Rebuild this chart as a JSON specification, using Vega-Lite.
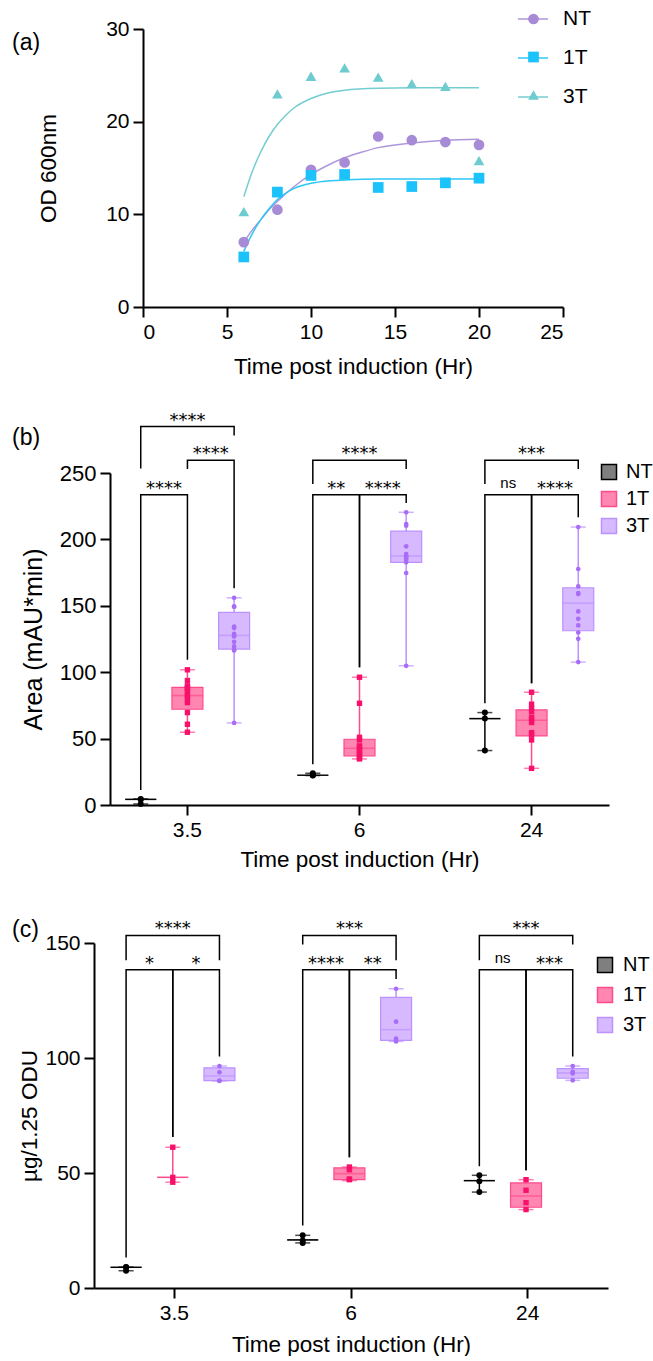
{
"$schema": "https://vega.github.io/schema/vega-lite/v6.json",
"padding": {"left": 12, "top": 9, "right": 0, "bottom": 0},
"datasets": {
"growth": [
{"t":6,"od":7.0,"group":"NT"},{"t":8,"od":10.5,"group":"NT"},{"t":10,"od":14.8,"group":"NT"},{"t":12,"od":15.6,"group":"NT"},{"t":14,"od":18.4,"group":"NT"},{"t":16,"od":18.0,"group":"NT"},{"t":18,"od":17.8,"group":"NT"},{"t":20,"od":17.5,"group":"NT"},
{"t":6,"od":5.4,"group":"1T"},{"t":8,"od":12.4,"group":"1T"},{"t":10,"od":14.2,"group":"1T"},{"t":12,"od":14.3,"group":"1T"},{"t":14,"od":12.9,"group":"1T"},{"t":16,"od":13.0,"group":"1T"},{"t":18,"od":13.4,"group":"1T"},{"t":20,"od":13.9,"group":"1T"},
{"t":6,"od":10.3,"group":"3T"},{"t":8,"od":23.0,"group":"3T"},{"t":10,"od":24.9,"group":"3T"},{"t":12,"od":25.8,"group":"3T"},{"t":14,"od":24.8,"group":"3T"},{"t":16,"od":24.1,"group":"3T"},{"t":18,"od":23.8,"group":"3T"},{"t":20,"od":15.8,"group":"3T"}
],
"fit": [
{"t":6,"od":7.0,"curve":"NT"},{"t":6.5,"od":8.3,"curve":"NT"},{"t":7,"od":9.4,"curve":"NT"},{"t":7.5,"od":10.5,"curve":"NT"},{"t":8,"od":11.4,"curve":"NT"},{"t":9,"od":13.0,"curve":"NT"},{"t":10,"od":14.3,"curve":"NT"},{"t":11,"od":15.3,"curve":"NT"},{"t":12,"od":16.1,"curve":"NT"},{"t":13,"od":16.7,"curve":"NT"},{"t":14,"od":17.2,"curve":"NT"},{"t":16,"od":17.7,"curve":"NT"},{"t":18,"od":18.0,"curve":"NT"},{"t":20,"od":18.1,"curve":"NT"},
{"t":6,"od":6.0,"curve":"1T"},{"t":6.5,"od":7.9,"curve":"1T"},{"t":7,"od":9.4,"curve":"1T"},{"t":7.5,"od":10.6,"curve":"1T"},{"t":8,"od":11.6,"curve":"1T"},{"t":8.5,"od":12.3,"curve":"1T"},{"t":9,"od":12.8,"curve":"1T"},{"t":10,"od":13.35,"curve":"1T"},{"t":11,"od":13.6,"curve":"1T"},{"t":12,"od":13.7,"curve":"1T"},{"t":14,"od":13.8,"curve":"1T"},{"t":16,"od":13.8,"curve":"1T"},{"t":20,"od":13.8,"curve":"1T"},
{"t":6,"od":11.9,"curve":"3T"},{"t":6.5,"od":14.6,"curve":"3T"},{"t":7,"od":16.7,"curve":"3T"},{"t":7.5,"od":18.4,"curve":"3T"},{"t":8,"od":19.7,"curve":"3T"},{"t":8.5,"od":20.7,"curve":"3T"},{"t":9,"od":21.5,"curve":"3T"},{"t":10,"od":22.5,"curve":"3T"},{"t":11,"od":23.1,"curve":"3T"},{"t":12,"od":23.4,"curve":"3T"},{"t":14,"od":23.6,"curve":"3T"},{"t":16,"od":23.65,"curve":"3T"},{"t":20,"od":23.65,"curve":"3T"}
],
"bpts": [
{"time":"3.5","group":"NT","value":4.6},{"time":"3.5","group":"NT","value":4.2},{"time":"3.5","group":"NT","value":0.8},
{"time":"3.5","group":"1T","value":101.8},{"time":"3.5","group":"1T","value":93.7},{"time":"3.5","group":"1T","value":89.7},{"time":"3.5","group":"1T","value":88.7},{"time":"3.5","group":"1T","value":87.5},{"time":"3.5","group":"1T","value":85.2},{"time":"3.5","group":"1T","value":82.4},{"time":"3.5","group":"1T","value":80.9},{"time":"3.5","group":"1T","value":77.1},{"time":"3.5","group":"1T","value":69.6},{"time":"3.5","group":"1T","value":60.8},{"time":"3.5","group":"1T","value":54.8},
{"time":"3.5","group":"3T","value":156},{"time":"3.5","group":"3T","value":149.5},{"time":"3.5","group":"3T","value":149.3},{"time":"3.5","group":"3T","value":134.4},{"time":"3.5","group":"3T","value":133.2},{"time":"3.5","group":"3T","value":128.9},{"time":"3.5","group":"3T","value":127.7},{"time":"3.5","group":"3T","value":126.9},{"time":"3.5","group":"3T","value":122.9},{"time":"3.5","group":"3T","value":119.4},{"time":"3.5","group":"3T","value":116.9},{"time":"3.5","group":"3T","value":116.4},{"time":"3.5","group":"3T","value":61.8},
{"time":"6","group":"NT","value":22.2},{"time":"6","group":"NT","value":23.9},{"time":"6","group":"NT","value":22.4},
{"time":"6","group":"1T","value":96.2},{"time":"6","group":"1T","value":76.6},{"time":"6","group":"1T","value":51.0},{"time":"6","group":"1T","value":49.0},{"time":"6","group":"1T","value":44.5},{"time":"6","group":"1T","value":43.5},{"time":"6","group":"1T","value":41.5},{"time":"6","group":"1T","value":40.2},{"time":"6","group":"1T","value":38.4},{"time":"6","group":"1T","value":36.9},{"time":"6","group":"1T","value":35.2},{"time":"6","group":"1T","value":34.7},
{"time":"6","group":"3T","value":220.4},{"time":"6","group":"3T","value":211.6},{"time":"6","group":"3T","value":210.3},{"time":"6","group":"3T","value":194.8},{"time":"6","group":"3T","value":189.0},{"time":"6","group":"3T","value":187.7},{"time":"6","group":"3T","value":187.2},{"time":"6","group":"3T","value":186.0},{"time":"6","group":"3T","value":184.7},{"time":"6","group":"3T","value":182.7},{"time":"6","group":"3T","value":174.7},{"time":"6","group":"3T","value":104.8},
{"time":"24","group":"NT","value":69.6},{"time":"24","group":"NT","value":65.1},{"time":"24","group":"NT","value":41.0},
{"time":"24","group":"1T","value":84.9},{"time":"24","group":"1T","value":75.9},{"time":"24","group":"1T","value":72.9},{"time":"24","group":"1T","value":70.4},{"time":"24","group":"1T","value":66.1},{"time":"24","group":"1T","value":64.1},{"time":"24","group":"1T","value":62.1},{"time":"24","group":"1T","value":54.5},{"time":"24","group":"1T","value":52.8},{"time":"24","group":"1T","value":49.0},{"time":"24","group":"1T","value":27.6},
{"time":"24","group":"3T","value":209.3},{"time":"24","group":"3T","value":177.7},{"time":"24","group":"3T","value":164.6},{"time":"24","group":"3T","value":159.6},{"time":"24","group":"3T","value":158.8},{"time":"24","group":"3T","value":145.8},{"time":"24","group":"3T","value":140.2},{"time":"24","group":"3T","value":135.2},{"time":"24","group":"3T","value":129.9},{"time":"24","group":"3T","value":125.1},{"time":"24","group":"3T","value":107.6}
],
"bbox": [
{"time":"3.5","group":"NT","min":0.8,"q1":4.2,"median":4.2,"q3":4.2,"max":4.6},
{"time":"3.5","group":"1T","min":54.8,"q1":72.1,"median":82.4,"q3":88.5,"max":101.8},
{"time":"3.5","group":"3T","min":61.8,"q1":117.4,"median":127.7,"q3":145,"max":156},
{"time":"6","group":"NT","min":22.2,"q1":22.4,"median":22.4,"q3":22.4,"max":23.9},
{"time":"6","group":"1T","min":34.7,"q1":36.9,"median":42.7,"q3":49.5,"max":96.2},
{"time":"6","group":"3T","min":104.8,"q1":182.7,"median":187.5,"q3":206.3,"max":220.4},
{"time":"24","group":"NT","min":41.0,"q1":65.1,"median":65.1,"q3":65.1,"max":69.6},
{"time":"24","group":"1T","min":27.6,"q1":52.0,"median":63.8,"q3":71.6,"max":84.9},
{"time":"24","group":"3T","min":107.6,"q1":131.2,"median":152,"q3":163.6,"max":209.3}
],
"bbr": [
{"time":"3.5","bracket":"b1","order":1,"slot":"NT","value":11.3},{"time":"3.5","bracket":"b1","order":2,"slot":"NT","value":233.7},{"time":"3.5","bracket":"b1","order":3,"slot":"1T","value":233.7},{"time":"3.5","bracket":"b1","order":4,"slot":"1T","value":109.3},
{"time":"3.5","bracket":"b2","order":1,"slot":"1T","value":253},{"time":"3.5","bracket":"b2","order":2,"slot":"1T","value":259.6},{"time":"3.5","bracket":"b2","order":3,"slot":"3T","value":259.6},{"time":"3.5","bracket":"b2","order":4,"slot":"3T","value":163.3},
{"time":"3.5","bracket":"b3","order":1,"slot":"NT","value":253.3},{"time":"3.5","bracket":"b3","order":2,"slot":"NT","value":285},{"time":"3.5","bracket":"b3","order":3,"slot":"3T","value":285},{"time":"3.5","bracket":"b3","order":4,"slot":"3T","value":278.2},
{"time":"6","bracket":"b4","order":1,"slot":"NT","value":30.7},{"time":"6","bracket":"b4","order":2,"slot":"NT","value":233.7},{"time":"6","bracket":"b4","order":3,"slot":"1T","value":233.7},{"time":"6","bracket":"b4","order":4,"slot":"1T","value":103.8},
{"time":"6","bracket":"b5","order":1,"slot":"1T","value":103.8},{"time":"6","bracket":"b5","order":2,"slot":"1T","value":233.7},{"time":"6","bracket":"b5","order":3,"slot":"3T","value":233.7},{"time":"6","bracket":"b5","order":4,"slot":"3T","value":227.4},
{"time":"6","bracket":"b6","order":1,"slot":"NT","value":241.7},{"time":"6","bracket":"b6","order":2,"slot":"NT","value":259.6},{"time":"6","bracket":"b6","order":3,"slot":"3T","value":259.6},{"time":"6","bracket":"b6","order":4,"slot":"3T","value":253},
{"time":"24","bracket":"b7","order":1,"slot":"NT","value":76.6},{"time":"24","bracket":"b7","order":2,"slot":"NT","value":233.7},{"time":"24","bracket":"b7","order":3,"slot":"1T","value":233.7},{"time":"24","bracket":"b7","order":4,"slot":"1T","value":91.7},
{"time":"24","bracket":"b8","order":1,"slot":"1T","value":91.7},{"time":"24","bracket":"b8","order":2,"slot":"1T","value":233.7},{"time":"24","bracket":"b8","order":3,"slot":"3T","value":233.7},{"time":"24","bracket":"b8","order":4,"slot":"3T","value":216.6},
{"time":"24","bracket":"b9","order":1,"slot":"NT","value":241.7},{"time":"24","bracket":"b9","order":2,"slot":"NT","value":259.6},{"time":"24","bracket":"b9","order":3,"slot":"3T","value":259.6},{"time":"24","bracket":"b9","order":4,"slot":"3T","value":253}
],
"blab": [
{"time":"3.5","slot":"NT|1T","value":233.7,"label":"****"},{"time":"3.5","slot":"1T|3T","value":259.6,"label":"****"},{"time":"3.5","slot":"1T","value":285,"label":"****"},
{"time":"6","slot":"NT|1T","value":233.7,"label":"**"},{"time":"6","slot":"1T|3T","value":233.7,"label":"****"},{"time":"6","slot":"1T","value":259.6,"label":"****"},
{"time":"24","slot":"NT|1T","value":233.7,"label":"ns"},{"time":"24","slot":"1T|3T","value":233.7,"label":"****"},{"time":"24","slot":"1T","value":259.6,"label":"***"}
],
"cpts": [
{"time":"3.5","group":"NT","value":9.0},{"time":"3.5","group":"NT","value":9.1},{"time":"3.5","group":"NT","value":7.5},
{"time":"3.5","group":"1T","value":61.2},{"time":"3.5","group":"1T","value":48.1},{"time":"3.5","group":"1T","value":46.0},
{"time":"3.5","group":"3T","value":96.5},{"time":"3.5","group":"3T","value":93.8},{"time":"3.5","group":"3T","value":90.2},{"time":"3.5","group":"3T","value":90.0},
{"time":"6","group":"NT","value":22.9},{"time":"6","group":"NT","value":20.6},{"time":"6","group":"NT","value":19.6},
{"time":"6","group":"1T","value":52.6},{"time":"6","group":"1T","value":51.4},{"time":"6","group":"1T","value":47.4},{"time":"6","group":"1T","value":47.1},
{"time":"6","group":"3T","value":130.1},{"time":"6","group":"3T","value":115.8},{"time":"6","group":"3T","value":108.4},{"time":"6","group":"3T","value":107.2},
{"time":"24","group":"NT","value":49.0},{"time":"24","group":"NT","value":46.4},{"time":"24","group":"NT","value":41.7},
{"time":"24","group":"1T","value":47.1},{"time":"24","group":"1T","value":42.5},{"time":"24","group":"1T","value":37.1},{"time":"24","group":"1T","value":34.1},
{"time":"24","group":"3T","value":96.5},{"time":"24","group":"3T","value":94.0},{"time":"24","group":"3T","value":93.3},{"time":"24","group":"3T","value":90.3}
],
"cbox": [
{"time":"3.5","group":"NT","min":7.5,"q1":9.0,"median":9.0,"q3":9.0,"max":9.1},
{"time":"3.5","group":"1T","min":46.0,"q1":48.1,"median":48.1,"q3":48.1,"max":61.2},
{"time":"3.5","group":"3T","min":90.0,"q1":90.2,"median":92.2,"q3":95.7,"max":96.5},
{"time":"6","group":"NT","min":19.6,"q1":20.9,"median":20.9,"q3":20.9,"max":22.9},
{"time":"6","group":"1T","min":46.7,"q1":47.1,"median":49.7,"q3":52.2,"max":52.6},
{"time":"6","group":"3T","min":107.2,"q1":107.7,"median":112.3,"q3":126.4,"max":130.1},
{"time":"24","group":"NT","min":41.7,"q1":46.7,"median":46.7,"q3":46.7,"max":49.0},
{"time":"24","group":"1T","min":34.1,"q1":35.1,"median":40.0,"q3":45.7,"max":47.1},
{"time":"24","group":"3T","min":90.3,"q1":91.2,"median":93.5,"q3":95.4,"max":96.5}
],
"cbr": [
{"time":"3.5","bracket":"c1","order":1,"slot":"NT","value":13.3},{"time":"3.5","bracket":"c1","order":2,"slot":"NT","value":138.4},{"time":"3.5","bracket":"c1","order":3,"slot":"1T","value":138.4},{"time":"3.5","bracket":"c1","order":4,"slot":"1T","value":65.7},
{"time":"3.5","bracket":"c2","order":1,"slot":"1T","value":65.7},{"time":"3.5","bracket":"c2","order":2,"slot":"1T","value":138.4},{"time":"3.5","bracket":"c2","order":3,"slot":"3T","value":138.4},{"time":"3.5","bracket":"c2","order":4,"slot":"3T","value":100.7},
{"time":"3.5","bracket":"c3","order":1,"slot":"NT","value":142.5},{"time":"3.5","bracket":"c3","order":2,"slot":"NT","value":153.3},{"time":"3.5","bracket":"c3","order":3,"slot":"3T","value":153.3},{"time":"3.5","bracket":"c3","order":4,"slot":"3T","value":142.5},
{"time":"6","bracket":"c4","order":1,"slot":"NT","value":27.2},{"time":"6","bracket":"c4","order":2,"slot":"NT","value":138.4},{"time":"6","bracket":"c4","order":3,"slot":"1T","value":138.4},{"time":"6","bracket":"c4","order":4,"slot":"1T","value":56.8},
{"time":"6","bracket":"c5","order":1,"slot":"1T","value":56.8},{"time":"6","bracket":"c5","order":2,"slot":"1T","value":138.4},{"time":"6","bracket":"c5","order":3,"slot":"3T","value":138.4},{"time":"6","bracket":"c5","order":4,"slot":"3T","value":134.3},
{"time":"6","bracket":"c6","order":1,"slot":"NT","value":149.3},{"time":"6","bracket":"c6","order":2,"slot":"NT","value":153.3},{"time":"6","bracket":"c6","order":3,"slot":"3T","value":153.3},{"time":"6","bracket":"c6","order":4,"slot":"3T","value":142.5},
{"time":"24","bracket":"c7","order":1,"slot":"NT","value":52.9},{"time":"24","bracket":"c7","order":2,"slot":"NT","value":138.4},{"time":"24","bracket":"c7","order":3,"slot":"1T","value":138.4},{"time":"24","bracket":"c7","order":4,"slot":"1T","value":51.2},
{"time":"24","bracket":"c8","order":1,"slot":"1T","value":51.2},{"time":"24","bracket":"c8","order":2,"slot":"1T","value":138.4},{"time":"24","bracket":"c8","order":3,"slot":"3T","value":138.4},{"time":"24","bracket":"c8","order":4,"slot":"3T","value":100.7},
{"time":"24","bracket":"c9","order":1,"slot":"NT","value":142.5},{"time":"24","bracket":"c9","order":2,"slot":"NT","value":153.3},{"time":"24","bracket":"c9","order":3,"slot":"3T","value":153.3},{"time":"24","bracket":"c9","order":4,"slot":"3T","value":149.3}
],
"clab": [
{"time":"3.5","slot":"NT|1T","value":138.4,"label":"*"},{"time":"3.5","slot":"1T|3T","value":138.4,"label":"*"},{"time":"3.5","slot":"1T","value":153.3,"label":"****"},
{"time":"6","slot":"NT|1T","value":138.4,"label":"****"},{"time":"6","slot":"1T|3T","value":138.4,"label":"**"},{"time":"6","slot":"1T","value":153.3,"label":"***"},
{"time":"24","slot":"NT|1T","value":138.4,"label":"ns"},{"time":"24","slot":"1T|3T","value":138.4,"label":"***"},{"time":"24","slot":"1T","value":153.3,"label":"***"}
]
},
"resolve": {
 "scale": {"color": "independent", "fill": "independent", "stroke": "independent", "shape": "independent", "size": "independent"},
 "legend": {"color": "independent", "fill": "independent", "stroke": "independent", "shape": "independent", "size": "independent"}
},
"vconcat": [
{
"width": 469, "height": 278,
"title": {"text": "(a)", "anchor": "start", "frame": "group", "dx": -82, "dy": 50, "fontSize": 23, "fontWeight": "normal", "font": "Liberation Sans", "color": "black"},
"layer": [
{"data": {"name": "fit"},
 "mark": {"type": "line", "interpolate": "monotone", "strokeWidth": 1.5},
 "encoding": {
  "x": {"field": "t", "type": "quantitative", "scale": {"domain": [0, 25], "range": [49, 469], "nice": false, "zero": false}, "axis": {"values": [0,5,10,15,20,25], "title": "Time post induction (Hr)", "titlePadding": 13}},
  "y": {"field": "od", "type": "quantitative", "scale": {"domain": [0, 30], "nice": false}, "axis": {"values": [0,10,20,30], "offset": -49, "title": "OD 600nm", "titlePadding": 45}},
  "stroke": {"field": "curve", "type": "nominal", "sort": ["NT","1T","3T"], "scale": {"range": ["#ae96dc","#2ec8f6","#74cdd2"]},
   "legend": {"title": null, "orient": "none", "legendX": 423, "legendY": -20, "padding": 0, "symbolType": "stroke", "symbolSize": 900, "symbolStrokeWidth": 1.5, "clipHeight": 20, "rowPadding": 18, "labelOffset": 14, "labelFontSize": 21}}
 }},
{"data": {"name": "growth"},
 "mark": {"type": "point", "filled": true, "size": 115, "opacity": 1},
 "encoding": {
  "x": {"field": "t", "type": "quantitative"},
  "y": {"field": "od", "type": "quantitative"},
  "fill": {"field": "group", "type": "nominal", "scale": {"domain": ["NT","1T","3T"], "range": ["#a78bd6","#1cc3fb","#6ecbd0"]},
   "legend": {"title": null, "orient": "none", "legendX": 433, "legendY": -20, "padding": 0, "symbolSize": 115, "clipHeight": 20, "rowPadding": 18, "labelExpr": "''"}},
  "shape": {"field": "group", "type": "nominal", "scale": {"domain": ["NT","1T","3T"], "range": ["circle","square","triangle-up"]},
   "legend": {"title": null, "orient": "none", "legendX": 433, "legendY": -20, "padding": 0, "symbolSize": 115, "clipHeight": 20, "rowPadding": 18, "labelExpr": "''"}}
 }}
]
},
{
"width": 515, "height": 332,
"title": {"text": "(b)", "anchor": "start", "frame": "group", "dx": -82, "dy": 42, "fontSize": 23, "fontWeight": "normal", "font": "Liberation Sans", "color": "black"},
"resolve": {"scale": {"color": "independent"}},
"layer": [
{"data": {"name": "bbox"},
 "mark": {"type": "rule", "strokeWidth": 1.5},
 "encoding": {
  "x": {"field": "time", "type": "nominal", "scale": {"domain": ["3.5","6","24"], "range": [16, 515], "paddingInner": 0.3, "paddingOuter": 0.1}, "axis": {"labelAngle": 0, "title": "Time post induction (Hr)", "titlePadding": 8}},
  "xOffset": {"field": "group", "type": "nominal", "scale": {"domain": ["NT","NT|1T","1T","1T|3T","3T"], "paddingInner": 0, "paddingOuter": 0.08}},
  "y": {"field": "min", "type": "quantitative", "scale": {"domain": [0, 250], "nice": false}, "axis": {"values": [0,50,100,150,200,250], "offset": -16, "title": "Area (mAU*min)", "titlePadding": 13, "labelFontSize": 22, "titleFontSize": 25}},
  "y2": {"field": "max"},
  "stroke": {"field": "group", "type": "nominal", "scale": {"domain": ["NT","1T","3T"], "range": ["#000000","#ff4a8d","#bb92ff"]}}
 }},
{"data": {"name": "bbox"},
 "mark": {"type": "bar", "width": 31, "strokeWidth": 1.2},
 "encoding": {
  "x": {"field": "time", "type": "nominal"},
  "xOffset": {"field": "group", "type": "nominal"},
  "y": {"field": "q1", "type": "quantitative"},
  "y2": {"field": "q3"},
  "fill": {"field": "group", "type": "nominal", "scale": {"domain": ["NT","1T","3T"], "range": ["#7f7f7f","#ff86b0","#d7b9ff"]},
   "legend": {"title": null, "orient": "none", "legendX": 505, "legendY": -11, "padding": 0, "symbolType": "square", "symbolSize": 225, "symbolStrokeWidth": 1.5, "rowPadding": 5, "labelOffset": 7, "labelFontSize": 20}},
  "stroke": {"field": "group", "type": "nominal"}
 }},
{"data": {"name": "bbox"},
 "mark": {"type": "tick", "size": 15, "thickness": 1.5},
 "encoding": {
  "x": {"field": "time", "type": "nominal"},
  "xOffset": {"field": "group", "type": "nominal"},
  "y": {"field": "min", "type": "quantitative"},
  "color": {"field": "group", "type": "nominal", "sort": ["NT","1T","3T"], "scale": {"range": ["#000000","#ff4a8d","#bb92ff"]}, "legend": null}
 }},
{"data": {"name": "bbox"},
 "mark": {"type": "tick", "size": 15, "thickness": 1.5},
 "encoding": {
  "x": {"field": "time", "type": "nominal"},
  "xOffset": {"field": "group", "type": "nominal"},
  "y": {"field": "max", "type": "quantitative"},
  "color": {"field": "group", "type": "nominal", "sort": ["NT","1T","3T"], "scale": {"range": ["#000000","#ff4a8d","#bb92ff"]}, "legend": null}
 }},
{"data": {"name": "bbox"},
 "mark": {"type": "tick", "size": 31, "thickness": 1.5},
 "encoding": {
  "x": {"field": "time", "type": "nominal"},
  "xOffset": {"field": "group", "type": "nominal"},
  "y": {"field": "median", "type": "quantitative"},
  "color": {"field": "group", "type": "nominal", "sort": ["NT","1T","3T"], "scale": {"range": ["#000000","#ff4a8d","#bb92ff"]}, "legend": null}
 }},
{"data": {"name": "bpts"},
 "mark": {"type": "point", "filled": true, "opacity": 1},
 "encoding": {
  "x": {"field": "time", "type": "nominal"},
  "xOffset": {"field": "group", "type": "nominal"},
  "y": {"field": "value", "type": "quantitative"},
  "color": {"field": "group", "type": "nominal", "sort": ["NT","1T","3T"], "scale": {"range": ["#000000","#f8106a","#a86cf7"]}, "legend": null},
  "shape": {"field": "group", "type": "nominal", "sort": ["NT","1T","3T"], "scale": {"range": ["circle","square","circle"]}, "legend": null},
  "size": {"field": "group", "type": "nominal", "sort": ["NT","1T","3T"], "scale": {"range": [36, 22, 16]}, "legend": null}
 }},
{"data": {"name": "bbr"},
 "mark": {"type": "line", "color": "black", "strokeWidth": 1.5},
 "encoding": {
  "x": {"field": "time", "type": "nominal"},
  "xOffset": {"field": "slot", "type": "nominal"},
  "y": {"field": "value", "type": "quantitative"},
  "detail": {"field": "bracket", "type": "nominal"},
  "order": {"field": "order", "type": "quantitative"}
 }},
{"data": {"name": "blab"},
 "transform": [{"filter": "datum.label != 'ns'"}],
 "mark": {"type": "text", "font": "DejaVu Sans", "fontSize": 18, "baseline": "alphabetic", "dy": -1, "color": "black"},
 "encoding": {
  "x": {"field": "time", "type": "nominal"},
  "xOffset": {"field": "slot", "type": "nominal"},
  "y": {"field": "value", "type": "quantitative"},
  "text": {"field": "label"}
 }},
{"data": {"name": "blab"},
 "transform": [{"filter": "datum.label == 'ns'"}],
 "mark": {"type": "text", "font": "Liberation Sans", "fontSize": 15, "baseline": "alphabetic", "dy": -7, "color": "black"},
 "encoding": {
  "x": {"field": "time", "type": "nominal"},
  "xOffset": {"field": "slot", "type": "nominal"},
  "y": {"field": "value", "type": "quantitative"},
  "text": {"field": "label"}
 }}
]
},
{
"width": 514, "height": 345,
"title": {"text": [" ", "(c)"], "lineHeight": 15, "anchor": "start", "frame": "group", "dx": -82, "dy": 26, "fontSize": 23, "fontWeight": "normal", "font": "Liberation Sans", "color": "black"},
"resolve": {"scale": {"color": "independent"}},
"layer": [
{"data": {"name": "cbox"},
 "mark": {"type": "rule", "strokeWidth": 1.5},
 "encoding": {
  "x": {"field": "time", "type": "nominal", "scale": {"domain": ["3.5","6","24"], "paddingInner": 0.3, "paddingOuter": 0.105}, "axis": {"labelAngle": 0, "title": "Time post induction (Hr)", "titlePadding": 10}},
  "xOffset": {"field": "group", "type": "nominal", "scale": {"domain": ["NT","NT|1T","1T","1T|3T","3T"], "paddingInner": 0, "paddingOuter": 0.077}},
  "y": {"field": "min", "type": "quantitative", "scale": {"domain": [0, 150], "nice": false}, "axis": {"values": [0,50,100,150], "title": "µg/1.25 ODU", "titlePadding": 3}},
  "y2": {"field": "max"},
  "stroke": {"field": "group", "type": "nominal", "scale": {"domain": ["NT","1T","3T"], "range": ["#000000","#ff4a8d","#bb92ff"]}}
 }},
{"data": {"name": "cbox"},
 "mark": {"type": "bar", "width": 31, "strokeWidth": 1.2},
 "encoding": {
  "x": {"field": "time", "type": "nominal"},
  "xOffset": {"field": "group", "type": "nominal"},
  "y": {"field": "q1", "type": "quantitative"},
  "y2": {"field": "q3"},
  "fill": {"field": "group", "type": "nominal", "scale": {"domain": ["NT","1T","3T"], "range": ["#7f7f7f","#ff86b0","#d7b9ff"]},
   "legend": {"title": null, "orient": "none", "legendX": 501, "legendY": 12, "padding": 0, "symbolType": "square", "symbolSize": 225, "symbolStrokeWidth": 1.5, "rowPadding": 8, "labelOffset": 8, "labelFontSize": 20}},
  "stroke": {"field": "group", "type": "nominal"}
 }},
{"data": {"name": "cbox"},
 "mark": {"type": "tick", "size": 15, "thickness": 1.5},
 "encoding": {
  "x": {"field": "time", "type": "nominal"},
  "xOffset": {"field": "group", "type": "nominal"},
  "y": {"field": "min", "type": "quantitative"},
  "color": {"field": "group", "type": "nominal", "sort": ["NT","1T","3T"], "scale": {"range": ["#000000","#ff4a8d","#bb92ff"]}, "legend": null}
 }},
{"data": {"name": "cbox"},
 "mark": {"type": "tick", "size": 15, "thickness": 1.5},
 "encoding": {
  "x": {"field": "time", "type": "nominal"},
  "xOffset": {"field": "group", "type": "nominal"},
  "y": {"field": "max", "type": "quantitative"},
  "color": {"field": "group", "type": "nominal", "sort": ["NT","1T","3T"], "scale": {"range": ["#000000","#ff4a8d","#bb92ff"]}, "legend": null}
 }},
{"data": {"name": "cbox"},
 "mark": {"type": "tick", "size": 31, "thickness": 1.5},
 "encoding": {
  "x": {"field": "time", "type": "nominal"},
  "xOffset": {"field": "group", "type": "nominal"},
  "y": {"field": "median", "type": "quantitative"},
  "color": {"field": "group", "type": "nominal", "sort": ["NT","1T","3T"], "scale": {"range": ["#000000","#ff4a8d","#bb92ff"]}, "legend": null}
 }},
{"data": {"name": "cpts"},
 "mark": {"type": "point", "filled": true, "opacity": 1},
 "encoding": {
  "x": {"field": "time", "type": "nominal"},
  "xOffset": {"field": "group", "type": "nominal"},
  "y": {"field": "value", "type": "quantitative"},
  "color": {"field": "group", "type": "nominal", "sort": ["NT","1T","3T"], "scale": {"range": ["#000000","#f8106a","#a86cf7"]}, "legend": null},
  "shape": {"field": "group", "type": "nominal", "sort": ["NT","1T","3T"], "scale": {"range": ["circle","square","circle"]}, "legend": null},
  "size": {"field": "group", "type": "nominal", "sort": ["NT","1T","3T"], "scale": {"range": [36, 22, 16]}, "legend": null}
 }},
{"data": {"name": "cbr"},
 "mark": {"type": "line", "color": "black", "strokeWidth": 1.5},
 "encoding": {
  "x": {"field": "time", "type": "nominal"},
  "xOffset": {"field": "slot", "type": "nominal"},
  "y": {"field": "value", "type": "quantitative"},
  "detail": {"field": "bracket", "type": "nominal"},
  "order": {"field": "order", "type": "quantitative"}
 }},
{"data": {"name": "clab"},
 "transform": [{"filter": "datum.label != 'ns'"}],
 "mark": {"type": "text", "font": "DejaVu Sans", "fontSize": 18, "baseline": "alphabetic", "dy": -1, "color": "black"},
 "encoding": {
  "x": {"field": "time", "type": "nominal"},
  "xOffset": {"field": "slot", "type": "nominal"},
  "y": {"field": "value", "type": "quantitative"},
  "text": {"field": "label"}
 }},
{"data": {"name": "clab"},
 "transform": [{"filter": "datum.label == 'ns'"}],
 "mark": {"type": "text", "font": "Liberation Sans", "fontSize": 15, "baseline": "alphabetic", "dy": -7, "color": "black"},
 "encoding": {
  "x": {"field": "time", "type": "nominal"},
  "xOffset": {"field": "slot", "type": "nominal"},
  "y": {"field": "value", "type": "quantitative"},
  "text": {"field": "label"}
 }}
]
}
],
"spacing": 33,
"config": {
 "view": {"stroke": null},
 "font": "Liberation Sans",
 "axis": {"domainColor": "black", "domainWidth": 2, "tickColor": "black", "tickWidth": 2, "tickSize": 10, "labelFont": "Liberation Sans", "labelFontSize": 21, "labelColor": "black", "labelPadding": 4, "titleFont": "Liberation Sans", "titleFontSize": 22.5, "titleFontWeight": "normal", "titleColor": "black", "grid": false},
 "legend": {"labelFont": "Liberation Sans", "labelColor": "black"}
}
}
